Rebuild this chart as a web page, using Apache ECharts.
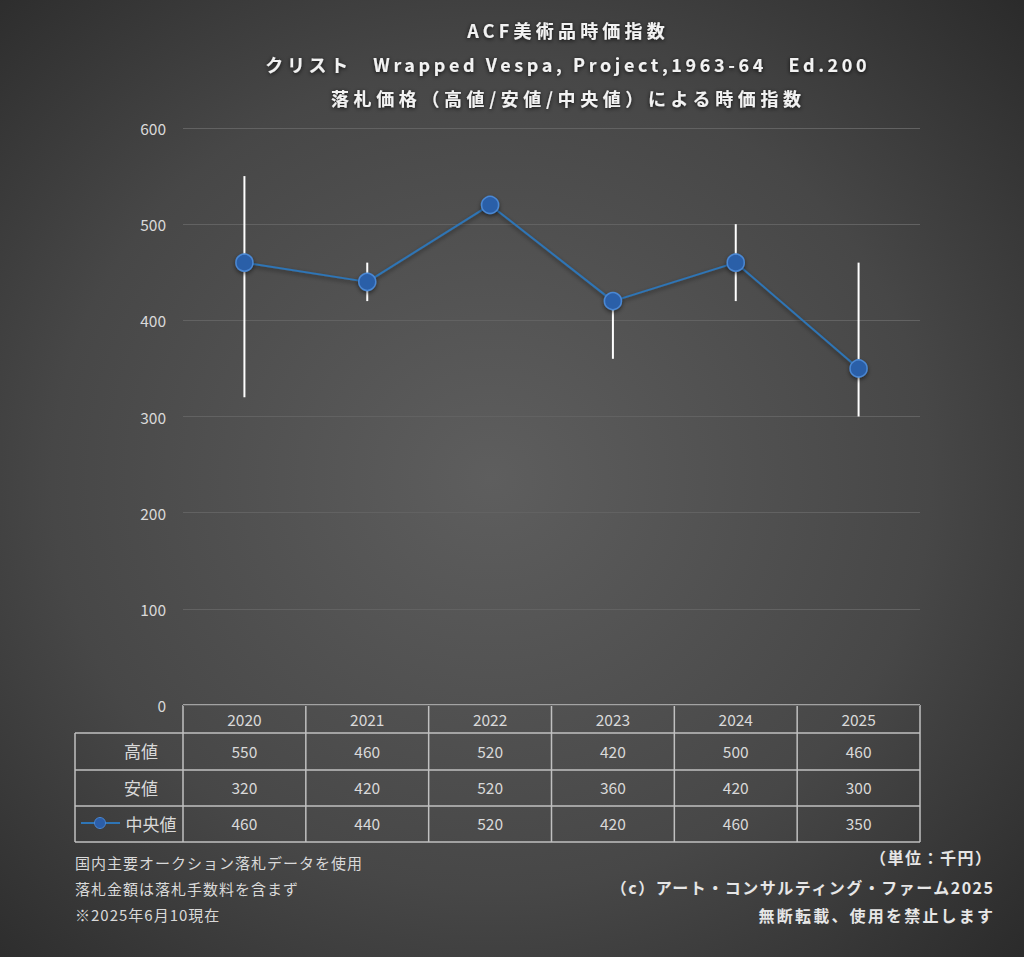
<!DOCTYPE html>
<html><head><meta charset="utf-8">
<script src="https://cdn.jsdelivr.net/npm/echarts@6/dist/echarts.min.js"></script>
<style>html,body{margin:0;padding:0;background:#333;}#c{width:1024px;height:957px;}</style>
</head><body><div id="c"></div>
<script>
const categories = ['2020','2021','2022','2023','2024','2025'];
const highValues = [550, 460, 520, 420, 500, 460];
const lowValues  = [320, 420, 520, 360, 420, 300];
const midValues  = [460, 440, 520, 420, 460, 350];
const rowLabels = ['高値','安値','中央値'];
const titleLines = ['ACF美術品時価指数','クリスト　Wrapped Vespa, Project,1963-64　Ed.200','落札価格（高値/安値/中央値）による時価指数'];
const notesLeft = ['国内主要オークション落札データを使用','落札金額は落札手数料を含まず','※2025年6月10現在'];
const notesRight = ['（単位：千円）','（c）アート・コンサルティング・ファーム2025','無断転載、使用を禁止します'];

const FONT = '"Noto Sans CJK JP", "Noto Sans", sans-serif';
const chart = echarts.init(document.getElementById('c'), null, {renderer:'svg'});
const GL = 183, GR = 920, GT = 128, GB = 705;

const option = {
  backgroundColor: {type:'radial', x:0.48, y:0.5, r:0.78, colorStops:[{offset:0,color:'#5e5e5e'},{offset:0.55,color:'#474747'},{offset:1,color:'#252525'}]},
  textStyle:{fontFamily:FONT},
  grid:{left:GL, right:1024-GR, top:GT, bottom:957-GB},
  xAxis:{type:'category', data:categories, axisLine:{show:false}, axisTick:{show:false}, axisLabel:{show:false}},
  yAxis:{type:'value', min:0, max:600, interval:100,
    axisLine:{show:false}, axisTick:{show:false},
    axisLabel:{color:'#d9d9d9', fontSize:15.5, margin:17, fontFamily:FONT},
    splitLine:{lineStyle:{color:'#626262', width:1.2}}},
  series:[
    {type:'custom', name:'err', z:3,
      data: categories.map((c,i)=>[i, lowValues[i], highValues[i]]),
      renderItem:(params, api)=>{
        const lo = api.coord([api.value(0), api.value(1)]);
        const hi = api.coord([api.value(0), api.value(2)]);
        return {type:'line', shape:{x1:lo[0], y1:lo[1], x2:hi[0], y2:hi[1]}, style:{stroke:'#ffffff', lineWidth:2}};
      }},
    {type:'line', name:'中央値', data:midValues, z:5, symbol:'circle', symbolSize:17,
      lineStyle:{color:'#2e75b6', width:2, shadowColor:'rgba(0,0,0,0.5)', shadowBlur:4, shadowOffsetY:2},
      itemStyle:{color:'#2c5ea8', borderColor:'#4a88d4', borderWidth:1.5, shadowColor:'rgba(0,0,0,0.5)', shadowBlur:4, shadowOffsetY:2}}
  ],
  graphic:[]
};
chart.setOption(option);

const spacing = {};
const g = [];
const titleY = [30, 64, 98];
const titleSpacing = [4.2, 3.6, 4.6];
const titleCX = 566;
titleLines.forEach((t,i)=>{
  spacing[t] = titleSpacing[i];
  g.push({type:'text', x:titleCX + titleSpacing[i]/2, y:titleY[i], style:{text:t, fill:'#f2f2f2', font:'bold 18px '+FONT, align:'center', verticalAlign:'middle', textShadowColor:'rgba(0,0,0,0.8)', textShadowBlur:4, textShadowOffsetY:1}});
});
const colW = (GR-GL)/categories.length;
const rowY = [705, 733, 770, 806, 842];
const tLeft = 75;
const lineC = '#c0c0c0', lw = 1.5;
g.push({type:'line', shape:{x1:GL, y1:rowY[0], x2:GR, y2:rowY[0]}, style:{stroke:lineC, lineWidth:lw}});
for (let r=1;r<rowY.length;r++) g.push({type:'line', shape:{x1:tLeft, y1:rowY[r], x2:GR, y2:rowY[r]}, style:{stroke:lineC, lineWidth:lw}});
g.push({type:'line', shape:{x1:tLeft, y1:rowY[1], x2:tLeft, y2:rowY[4]}, style:{stroke:lineC, lineWidth:lw}});
for (let c=0;c<=categories.length;c++){
  const x = GL + c*colW;
  g.push({type:'line', shape:{x1:x, y1:rowY[0], x2:x, y2:rowY[4]}, style:{stroke:lineC, lineWidth:lw}});
}
const rows = [highValues, lowValues, midValues];
categories.forEach((cat,i)=>{
  const cx = chart.convertToPixel({xAxisIndex:0}, i);
  g.push({type:'text', x:cx, y:(rowY[0]+rowY[1])/2, style:{text:cat, fill:'#d9d9d9', font:'15.5px '+FONT, align:'center', verticalAlign:'middle'}});
  rows.forEach((arr,r)=>{
    g.push({type:'text', x:cx, y:(rowY[r+1]+rowY[r+2])/2-1, style:{text:String(arr[i]), fill:'#d9d9d9', font:'15.5px '+FONT, align:'center', verticalAlign:'middle'}});
  });
});
rowLabels.forEach((lab,r)=>{
  const cy = (rowY[r+1]+rowY[r+2])/2 - 1;
  if (r===2){
    g.push({type:'line', shape:{x1:81, y1:cy, x2:120, y2:cy}, style:{stroke:'#2e75b6', lineWidth:2}});
    g.push({type:'circle', shape:{cx:100, cy:cy, r:5.5}, style:{fill:'#2c5ea8', stroke:'#4a88d4', lineWidth:1}});
    g.push({type:'text', x:151, y:cy, style:{text:lab, fill:'#d9d9d9', font:'17px '+FONT, align:'center', verticalAlign:'middle'}});
  } else {
    g.push({type:'text', x:141, y:cy, style:{text:lab, fill:'#d9d9d9', font:'17px '+FONT, align:'center', verticalAlign:'middle'}});
  }
});
const nlY = [862, 888, 914];
notesLeft.forEach((t,i)=>{
  spacing[t] = 1.0;
  g.push({type:'text', x:75, y:nlY[i], style:{text:t, fill:'#d9d9d9', font:'15px '+FONT, verticalAlign:'middle'}});
});
const nrY = [857, 887, 915];
const nrX = [991, 993, 993];
const nrS = [1.5, 1.5, 2.2];
notesRight.forEach((t,i)=>{
  spacing[t] = nrS[i];
  g.push({type:'text', x:nrX[i]+nrS[i], y:nrY[i], style:{text:t, fill:'#e6e6e6', font:'bold 16px '+FONT, align:'right', verticalAlign:'middle'}});
});
chart.setOption({graphic:g});

function applySpacing(){
  document.querySelectorAll('#c svg text').forEach(el=>{
    const s = spacing[el.textContent];
    if (s !== undefined) el.style.letterSpacing = s + 'px';
  });
}
applySpacing();
chart.on('finished', applySpacing);
</script></body></html>
